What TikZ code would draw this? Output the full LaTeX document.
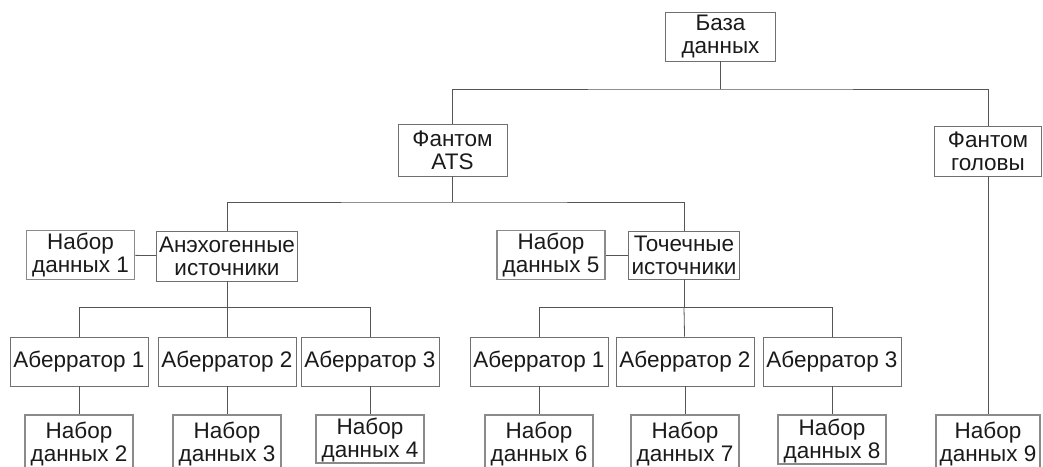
\documentclass[tikz,border=0pt]{standalone}
\usepackage{fontspec}
\setmainfont{Liberation Sans}
\definecolor{linegray}{HTML}{555555}
\definecolor{boxgray}{HTML}{707070}
\definecolor{setgray}{HTML}{8A8A8A}
\definecolor{inkgray}{HTML}{1A1A1A}

\begin{document}
\begin{tikzpicture}[x=1pt, y=-1pt,
    box/.style={draw=boxgray, line width=0.9pt, align=center, inner sep=0pt,
        text=inkgray, font=\fontsize{22.5}{23}\selectfont},
    dataset/.style={box, draw=setgray, line width=1.8pt, minimum width=108, minimum height=49},
    aberr/.style={box, minimum width=138, minimum height=49},
    link/.style={draw=linegray, line width=0.8pt}]
    \path[use as bounding box] (0,0) rectangle (1043,466);
    \clip (0,0) rectangle (1043,466);

    % Top of the tree
    \node[box, minimum width=110, minimum height=49] (db) at (720.5,36.5) {База\\данных};
    \node[box, minimum width=109, minimum height=52] (ats) at (452.5,150) {Фантом\\ATS};
    \node[box, minimum width=107, minimum height=50] (head) at (988,151) {Фантом\\головы};
    \coordinate (bus1) at (720.5,89);
    \draw[link] (db) -- (bus1);
    \draw[link] (ats) |- (bus1) -| (head);

    % Sources of the ATS phantom
    \node[box, minimum width=141, minimum height=50] (anech) at (227,256) {Анэхогенные\\источники};
    \node[box, minimum width=111, minimum height=48] (point) at (684,255) {Точечные\\источники};
    \node[dataset] (set1) at (80.5,255) {Набор\\данных 1};
    \node[dataset] (set5) at (551,255) {Набор\\данных 5};
    \coordinate (bus2) at (452.5,202);
    \draw[link] (ats) -- (bus2);
    \draw[link] (anech) |- (bus2) -| (point);
    \draw[link] (set1) -- (anech);
    \draw[link] (set5) -- (point);

    % Aberrators
    \foreach \i/\x in {1/79, 2/227, 3/370}
        \node[aberr] (abL\i) at (\x,361.5) {Аберратор \i};
    \foreach \i/\x in {1/539, 2/685, 3/832}
        \node[aberr] (abR\i) at (\x,361.5) {Аберратор \i};
    \coordinate (bus3) at (227,307.5);
    \coordinate (bus4) at (684,307.5);
    \draw[link] (anech) -- (bus3);
    \draw[link] (abL1) |- (bus3) -| (abL3);
    \draw[link] (abL2) -- (bus3);
    \draw[link] (point) -- (bus4);
    \draw[link] (abR1) |- (bus4) -| (abR3);
    \draw[link] (abR2) -- (bus4);

    % Data sets at the bottom
    \foreach \i/\x/\h in {2/79/56, 3/227/56, 4/370/48, 6/539/56, 7/685/56, 8/832/49}
        \node[dataset, minimum height=\h, anchor=north] (set\i) at (\x,414)
            {\vphantom{Б}\smash{\begin{tabular}{@{}c@{}}Набор\\данных \i\end{tabular}}};
    \node[dataset, minimum width=104, minimum height=56, anchor=north] (set9) at (988,414)
        {\vphantom{Б}\smash{\begin{tabular}{@{}c@{}}Набор\\данных 9\end{tabular}}};
    \foreach \a/\s in {L1/2, L2/3, L3/4, R1/6, R2/7, R3/8}
        \draw[link] (ab\a) -- (set\s);
    \draw[link] (head) -- (set9);
\end{tikzpicture}
\end{document}
